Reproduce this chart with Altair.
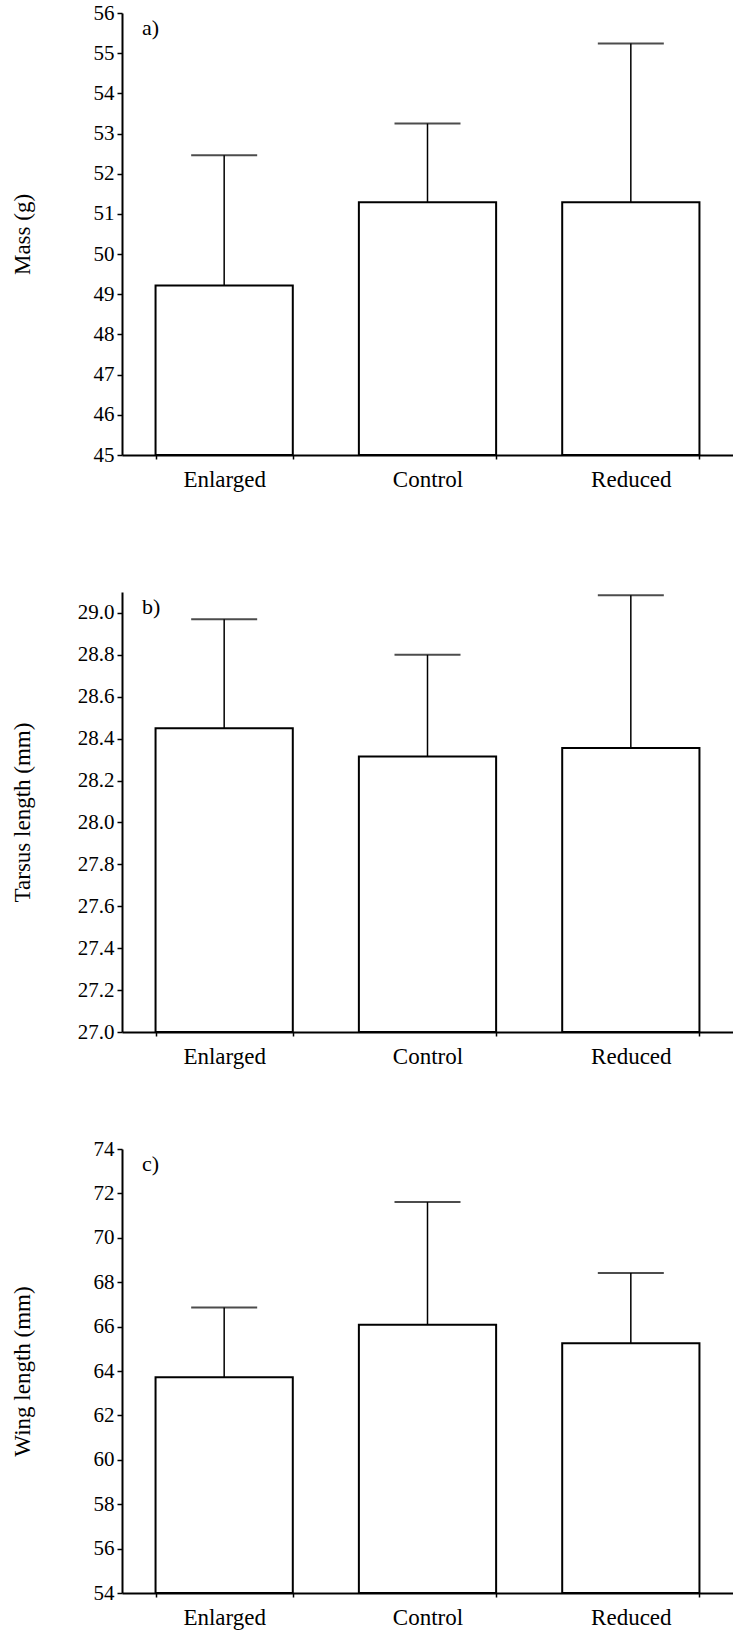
import altair as alt
import pandas as pd

# Treatment groups (brood size manipulation)
groups = ["Enlarged", "Control", "Reduced"]

# Panel a: body mass (g), means and upper error extent
mass_mean = [49.22, 51.29, 51.29]
mass_err = [3.24, 1.96, 3.95]

# Panel b: tarsus length (mm)
tarsus_mean = [28.45, 28.315, 28.355]
tarsus_err = [0.52, 0.485, 0.73]

# Panel c: wing length (mm)
wing_mean = [63.72, 66.08, 65.25]
wing_err = [3.14, 5.53, 3.16]

FONT = "Liberation Serif"


def frame(means, errs):
    return pd.DataFrame({
        "group": groups,
        "mean": means,
        "upper": [m + e for m, e in zip(means, errs)],
    })


def panel(df, tag, title, lo, hi, height, major, minor, minor_test, fmt, top_gap=0):
    ticks = sorted(set(major) | set(minor))
    xenc = alt.X(
        "group:N",
        sort=groups,
        title=None,
        scale=alt.Scale(paddingInner=0.325, paddingOuter=0.165),
        axis=alt.Axis(
            labelAngle=0,
            labelFont=FONT,
            labelFontSize=23,
            labelColor="black",
            labelPadding=9,
            tickBand="extent",
            tickSize=4,
            tickColor="black",
            tickWidth=1.5,
            domainColor="black",
            domainWidth=2,
        ),
    )
    yscale = alt.Scale(domain=[lo, hi], nice=False, zero=False)
    yaxis = alt.Axis(
        values=ticks,
        format=fmt,
        labelExpr=f"({minor_test}) ? '' : datum.label",
        labelFont=FONT,
        labelFontSize=21,
        labelColor="black",
        labelPadding=3,
        labelFlush=False,
        labelOverlap=False,
        tickColor="black",
        tickWidth=1.5,
        tickSize={"condition": {"test": minor_test, "value": 2.5}, "value": 5},
        domainColor="black",
        domainWidth=2,
        grid=False,
        title=title,
        titleFont=FONT,
        titleFontSize=23,
        titleFontWeight="normal",
        titleColor="black",
        titleX=-100,
        titleY=height / 2,
        titleAngle=-90,
        titleAlign="center",
        titleBaseline="middle",
    )

    base = alt.Chart(df)
    bars = base.mark_bar(fill="white", stroke="black", strokeWidth=2).encode(
        x=xenc,
        y=alt.Y("mean:Q", scale=yscale, axis=yaxis),
        y2=alt.datum(lo),
    )
    stem = base.mark_rule(color="black", strokeWidth=1.5).encode(
        x=alt.X("group:N", sort=groups),
        y="mean:Q",
        y2="upper:Q",
    )
    cap = base.mark_tick(color="black", thickness=2, size=66).encode(
        x=alt.X("group:N", sort=groups),
        y="upper:Q",
    )
    letter = alt.Chart(pd.DataFrame({"t": [tag]})).mark_text(
        align="left", baseline="alphabetic", font=FONT, fontSize=22, color="black"
    ).encode(text="t:N", x=alt.value(20), y=alt.value(22))

    layers = [bars, stem, cap, letter]
    if top_gap:
        # transparent rule that reserves extra room above this panel
        layers.append(
            alt.Chart(pd.DataFrame({"t": [0]})).mark_rule(strokeOpacity=0).encode(
                x=alt.value(0), y=alt.value(-top_gap), y2=alt.value(0)
            )
        )
    return alt.layer(*layers).properties(width=611, height=height)


mass_major = list(range(45, 57))
mass_minor = [v + 0.5 for v in range(45, 56)]
tarsus_major = [round(27.0 + 0.2 * i, 1) for i in range(11)]
tarsus_minor = [round(27.1 + 0.2 * i, 1) for i in range(11)]
wing_major = list(range(54, 75, 2))
wing_minor = list(range(55, 74, 2))

pa = panel(frame(mass_mean, mass_err), "a)", "Mass (g)", 45, 56, 442,
           mass_major, mass_minor, "round(datum.value*2) % 2 == 1", "d")
pb = panel(frame(tarsus_mean, tarsus_err), "b)", "Tarsus length (mm)", 27.0, 29.1, 440,
           tarsus_major, tarsus_minor, "round(datum.value*10) % 2 == 1", ".1f", top_gap=31)
pc = panel(frame(wing_mean, wing_err), "c)", "Wing length (mm)", 54, 74, 444,
           wing_major, wing_minor, "round(datum.value) % 2 == 1", "d")

chart = alt.vconcat(pa, pb, pc, spacing=70).properties(
    padding={"left": 11, "top": 2, "right": 0, "bottom": 4},
    background="white",
).configure_view(stroke=None)

chart.save("out.html", embed_options={"renderer": "svg", "actions": False})
